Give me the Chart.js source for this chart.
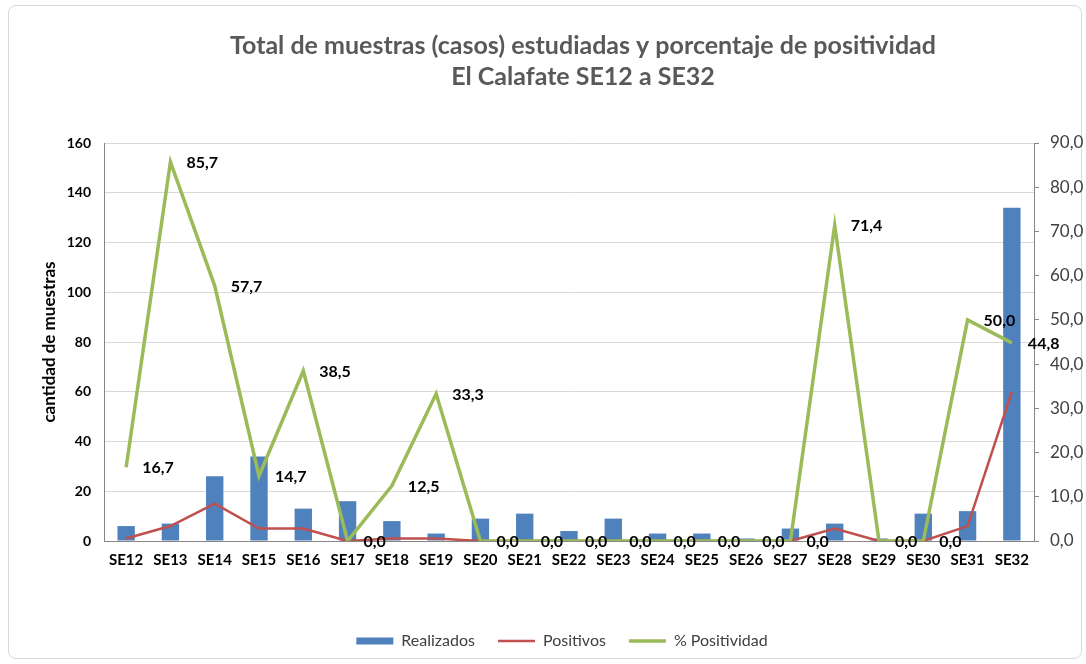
<!DOCTYPE html>
<html>
<head>
<meta charset="utf-8">
<script src="https://cdn.jsdelivr.net/npm/chart.js@4.4.1/dist/chart.umd.min.js"></script>
<style>
  html, body { margin: 0; padding: 0; background: #ffffff; }
  #frame { position: absolute; left: 8px; top: 5px; width: 1074px; height: 654px;
           border: 1px solid #d9d9d9; border-radius: 8px; box-sizing: border-box; }
  #wrap { position: absolute; left: 0; top: 0; width: 1086px; height: 664px; }
</style>
</head>
<body>
<div id="frame"></div>
<div id="wrap"><canvas id="c" width="1086" height="664"></canvas></div>
<script>
const categories = ["SE12","SE13","SE14","SE15","SE16","SE17","SE18","SE19","SE20","SE21","SE22","SE23","SE24","SE25","SE26","SE27","SE28","SE29","SE30","SE31","SE32"];
const realizados = [6,7,26,34,13,16,8,3,9,11,4,9,3,3,1,5,7,1,11,12,134];
const positivos  = [1,6,15,5,5,0,1,1,0,0,0,0,0,0,0,0,5,0,0,6,60];
const positividad = [16.7,85.7,57.7,14.7,38.5,0,12.5,33.3,0,0,0,0,0,0,0,0,71.4,0,0,50.0,44.8];
const seriesNames = ["Realizados","Positivos","% Positividad"];
const titleLines = ["Total de muestras (casos) estudiadas y porcentaje de positividad","El Calafate SE12 a SE32"];
const yTitle = "cantidad de muestras";

const fmt = v => v.toFixed(1).replace('.', ',');
const FONT = "Lato, 'Open Sans', sans-serif";

const labelPlugin = {
  id: 'pctLabels',
  afterLayout(chart) {
    if (chart.legend) { chart.legend.left += 38; }
    if (chart.titleBlock) { chart.titleBlock.left += 80; }
  },
  afterDatasetsDraw(chart) {
    const ctx = chart.ctx;
    const meta = chart.getDatasetMeta(2);
    ctx.save();
    ctx.font = "bold 16px " + FONT;
    ctx.fillStyle = "#000000";
    ctx.textAlign = "left";
    ctx.textBaseline = "middle";
    meta.data.forEach((pt, i) => {
      ctx.fillText(fmt(positividad[i]), pt.x + 16, pt.y + 1);
    });
    ctx.restore();
  }
};

new Chart(document.getElementById('c'), {
  data: {
    labels: categories,
    datasets: [
      { type: 'bar', label: seriesNames[0], data: realizados, yAxisID: 'y',
        backgroundColor: '#4f81bd', borderWidth: 0, order: 3,
        categoryPercentage: 0.8, barPercentage: 0.49 },
      { type: 'line', label: seriesNames[1], data: positivos, yAxisID: 'y',
        borderColor: '#c0504d', backgroundColor: '#c0504d', borderWidth: 2.5,
        pointRadius: 0, tension: 0, order: 2 },
      { type: 'line', label: seriesNames[2], data: positividad, yAxisID: 'y1',
        borderColor: '#9bbb59', backgroundColor: '#9bbb59', borderWidth: 3.5,
        pointRadius: 0, tension: 0, order: 1 }
    ]
  },
  options: {
    responsive: false,
    animation: false,
    layout: { padding: { left: 0, right: 0, top: 0, bottom: 5 } },
    plugins: {
      tooltip: { enabled: false },
      title: {
        display: true, text: titleLines, color: '#595959',
        font: { family: FONT, size: 25, weight: 'bold', lineHeight: 1.24 },
        padding: { top: 30, bottom: 51 }
      },
      legend: {
        position: 'bottom',
        labels: {
          usePointStyle: true, pointStyleWidth: 37, boxHeight: 7,
          color: '#404040', font: { family: FONT, size: 16 }, padding: 23,
          generateLabels(chart) {
            return [
              { text: seriesNames[0], fillStyle: '#4f81bd', strokeStyle: '#4f81bd', lineWidth: 0, pointStyle: 'rect', datasetIndex: 0, fontColor: '#404040' },
              { text: seriesNames[1], fillStyle: '#c0504d', strokeStyle: '#c0504d', lineWidth: 2.5, pointStyle: 'line', datasetIndex: 1, fontColor: '#404040' },
              { text: seriesNames[2], fillStyle: '#9bbb59', strokeStyle: '#9bbb59', lineWidth: 3.5, pointStyle: 'line', datasetIndex: 2, fontColor: '#404040' }
            ];
          }
        }
      }
    },
    scales: {
      x: {
        grid: { display: false, drawTicks: false },
        border: { color: '#868686' },
        ticks: { color: '#000000', font: { family: FONT, size: 15, weight: 'bold' }, maxRotation: 0, autoSkip: false, padding: 10 },
        afterFit(s) { s.height = 69; }
      },
      y: {
        position: 'left', min: 0, max: 160,
        ticks: { stepSize: 20, color: '#000000', font: { family: FONT, size: 14, weight: 'bold' }, padding: 13 },
        grid: { color: '#d9d9d9', drawTicks: false },
        border: { color: '#868686' },
        title: { display: true, text: yTitle, color: '#000000', font: { family: FONT, size: 17, weight: 'bold' }, padding: { top: 39, bottom: 0 } },
        afterFit(s) { s.width = 104; }
      },
      y1: {
        position: 'right', min: 0, max: 90,
        ticks: { stepSize: 10, color: '#404040', font: { family: FONT, size: 17 }, padding: 11, callback: v => fmt(v) },
        grid: { drawOnChartArea: false, color: '#868686', tickLength: 5 },
        border: { color: '#868686' },
        afterFit(s) { s.width = 52; }
      }
    }
  },
  plugins: [labelPlugin]
});
</script>
</body>
</html>
